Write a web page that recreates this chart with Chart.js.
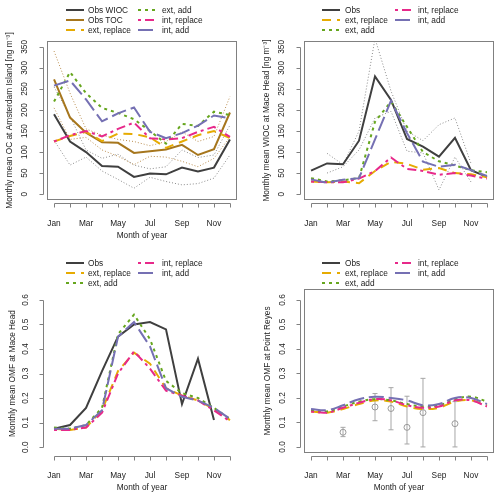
<!DOCTYPE html>
<html>
<head>
<meta charset="utf-8">
<script src="https://cdn.jsdelivr.net/npm/chart.js@4.4.0/dist/chart.umd.min.js"></script>
<style>
html, body { margin: 0; padding: 0; background: #fff; }
#wrap { position: relative; width: 500px; height: 500px; overflow: hidden; }
.panel { position: absolute; width: 250px; height: 250px; }
.panel canvas { position: absolute; left: 0; top: 0; }
.leg div { position: absolute; font: 8.3px "Liberation Sans", Arial, sans-serif; color: #222; white-space: nowrap; line-height: 10px; }
.leg svg { position: absolute; }
</style>
</head>
<body>
<div id="wrap">
  <div class="panel" style="left:0;top:0"><canvas id="c1" width="250" height="250"></canvas><div class="leg" id="l1"></div></div>
  <div class="panel" style="left:250px;top:0"><canvas id="c2" width="250" height="250"></canvas><div class="leg" id="l2"></div></div>
  <div class="panel" style="left:0;top:250px"><canvas id="c3" width="250" height="250"></canvas><div class="leg" id="l3"></div></div>
  <div class="panel" style="left:250px;top:250px"><canvas id="c4" width="250" height="250"></canvas><div class="leg" id="l4"></div></div>
</div>
<script>
// ---- data ----
var months = ['Jan', 'Feb', 'Mar', 'Apr', 'May', 'Jun', 'Jul', 'Aug', 'Sep', 'Oct', 'Nov', 'Dec'];
var ocTicks = [0, 50, 100, 150, 200, 250, 300, 350];
var omfTicks = [0, 0.1, 0.2, 0.3, 0.4, 0.5, 0.6];

// Amsterdam Island OC
var amsWiocObs = [190, 125, 100, 67, 65, 41, 49, 47, 63, 54, 63, 130];
var amsWiocMin = [128, 69, 88, 55, 35, 14, 40, 30, 22, 25, 38, 93];
var amsWiocMax = [255, 185, 105, 85, 95, 69, 60, 65, 105, 87, 93, 164];
var amsTocObs = [273, 182, 146, 123, 122, 98, 102, 106, 117, 93, 107, 194];
var amsTocMin = [205, 130, 135, 105, 90, 70, 90, 88, 78, 65, 85, 136];
var amsTocMax = [340, 240, 155, 140, 130, 125, 115, 125, 148, 125, 137, 232];
var amsExtRep = [125, 138, 148, 126, 144, 143, 135, 110, 125, 140, 150, 133];
var amsExtAdd = [220, 290, 240, 205, 193, 178, 150, 120, 167, 162, 196, 188];
var amsIntRep = [125, 140, 150, 137, 155, 170, 133, 130, 133, 148, 160, 136];
var amsIntAdd = [258, 270, 225, 173, 192, 206, 148, 133, 145, 163, 187, 180];

// Mace Head WIOC
var maceWiocObs = [56, 73, 71, 127, 280, 224, 131, 113, 89, 134, 57, 41];
var maceWiocMin = [null, 50, 65, 105, 181, 197, 102, 98, 10, 88, 29, null];
var maceWiocMax = [null, 97, 70, 150, 370, 245, 150, 127, 165, 181, 73, null];
var maceWiocExtRep = [30, 28, 30, 26, 55, 77, 72, 58, 62, 50, 47, 40];
var maceWiocExtAdd = [38, 30, 33, 38, 172, 220, 160, 100, 78, 68, 57, 52];
var maceWiocIntRep = [30, 28, 28, 37, 55, 87, 60, 55, 46, 50, 44, 37];
var maceWiocIntAdd = [35, 27, 34, 38, 130, 222, 145, 77, 65, 70, 57, 43];

// Mace Head OMF
var maceOmfObs = [0.075, 0.09, 0.16, 0.31, 0.45, 0.50, 0.51, 0.48, 0.175, 0.36, 0.11, null];
var maceOmfExtRep = [0.075, 0.07, 0.08, 0.15, 0.31, 0.385, 0.34, 0.24, 0.21, 0.19, 0.155, 0.11];
var maceOmfExtAdd = [0.08, 0.075, 0.09, 0.16, 0.46, 0.54, 0.44, 0.27, 0.22, 0.20, 0.16, 0.115];
var maceOmfIntRep = [0.07, 0.07, 0.08, 0.14, 0.30, 0.39, 0.32, 0.23, 0.21, 0.19, 0.15, 0.105];
var maceOmfIntAdd = [0.075, 0.075, 0.09, 0.15, 0.45, 0.51, 0.41, 0.24, 0.205, 0.19, 0.16, 0.115];

// Point Reyes OMF
var reyesExtRep = [0.145, 0.14, 0.155, 0.175, 0.19, 0.185, 0.165, 0.155, 0.16, 0.185, 0.19, 0.17];
var reyesExtAdd = [0.15, 0.145, 0.165, 0.185, 0.195, 0.19, 0.175, 0.165, 0.17, 0.195, 0.205, 0.185];
var reyesIntRep = [0.145, 0.14, 0.16, 0.18, 0.195, 0.19, 0.17, 0.16, 0.165, 0.19, 0.19, 0.165];
var reyesIntAdd = [0.155, 0.15, 0.17, 0.195, 0.205, 0.20, 0.19, 0.17, 0.175, 0.20, 0.20, 0.175];
var reyesObsMonth = [3, 5, 6, 7, 8, 10];
var reyesObs = [0.06, 0.163, 0.157, 0.08, 0.14, 0.095];
var reyesObsLo = [0.042, 0.107, 0.07, 0.012, 0.0, 0.0];
var reyesObsHi = [0.08, 0.218, 0.242, 0.207, 0.28, 0.185];

// ---- styles ----
var FONT = '"Liberation Sans", Arial, sans-serif';
var sty = {
    obs:    { color: '#3f3f3f', width: 2, dash: [] },
    toc:    { color: '#a6761d', width: 2, dash: [] },
    extRep: { color: '#e6ab02', width: 2, dash: [9, 6] },
    extAdd: { color: '#66a61e', width: 2, dash: [3, 4] },
    intRep: { color: '#e7298a', width: 2, dash: [3, 4, 9, 4] },
    intAdd: { color: '#7570b3', width: 2, dash: [15, 5] },
    rgGray: { color: '#8a8a8a', width: 1, dash: [1, 2] },
    rgBrown:{ color: '#b98d4f', width: 1, dash: [1, 2] }
};

Chart.defaults.font.family = FONT;
Chart.defaults.font.size = 8.3;
Chart.defaults.color = '#222';

function line(key, vals, extra) {
    var s = sty[key];
    var d = {
        data: vals.map(function (v, i) { return { x: i + 1, y: v }; }),
        borderColor: s.color,
        borderWidth: s.width,
        borderDash: s.dash,
        pointRadius: 0,
        fill: false,
        tension: 0
    };
    return Object.assign(d, extra || {});
}

// box + R-style detached axes + rotated y title
var rFrame = {
    id: 'rFrame',
    afterDraw: function (chart, args, o) {
        var ctx = chart.ctx, a = chart.chartArea, xs = chart.scales.x, ys = chart.scales.y;
        ctx.save();
        ctx.strokeStyle = '#808080';
        ctx.lineWidth = 1;
        ctx.setLineDash([]);
        if (o.box) {
            ctx.strokeRect(Math.round(a.left) + 0.5, Math.round(a.top) + 0.5,
                Math.round(a.right - a.left) - 1, Math.round(a.bottom - a.top) - 1);
        }
        var yp = ys.ticks.map(function (t) { return Math.round(ys.getPixelForValue(t.value)) + 0.5; });
        var xp = xs.ticks.map(function (t) { return Math.round(xs.getPixelForValue(t.value)) + 0.5; });
        var ax = Math.round(a.left - 4) + 0.5, ay = Math.round(a.bottom + 3) + 0.5;
        ctx.beginPath();
        ctx.moveTo(ax, yp[0]); ctx.lineTo(ax, yp[yp.length - 1]);
        yp.forEach(function (p) { ctx.moveTo(ax, p); ctx.lineTo(ax - 4, p); });
        ctx.moveTo(xp[0], ay); ctx.lineTo(xp[xp.length - 1], ay);
        xp.forEach(function (p) { ctx.moveTo(p, ay); ctx.lineTo(p, ay + 4); });
        ctx.stroke();
        ctx.fillStyle = '#222';
        ctx.font = '8.3px ' + FONT;
        ctx.textAlign = 'center';
        ctx.textBaseline = 'middle';
        ctx.translate(o.titleX, (a.top + a.bottom) / 2);
        ctx.rotate(-Math.PI / 2);
        ctx.fillText(o.yTitle, 0, 0);
        ctx.restore();
    }
};

function makeChart(id, p, datasets) {
    return new Chart(document.getElementById(id), {
        type: 'line',
        data: { datasets: datasets },
        options: {
            responsive: false,
            animation: false,
            devicePixelRatio: 1,
            layout: { padding: { left: 0, top: p.t, right: 250 - p.r, bottom: 0 } },
            plugins: {
                legend: { display: false },
                tooltip: { enabled: false },
                rFrame: { box: p.box, titleX: p.titleX, yTitle: p.yTitle }
            },
            scales: {
                x: {
                    type: 'linear',
                    min: 0.56, max: 12.44,
                    grid: { display: false },
                    border: { display: false },
                    afterBuildTicks: function (s) { s.ticks = months.map(function (m, i) { return { value: i + 1 }; }); },
                    afterFit: function (s) { s.height = 250 - p.b; },
                    ticks: {
                        autoSkip: false, maxRotation: 0, padding: p.xPad,
                        callback: function (v) { return v % 2 === 1 ? months[v - 1] : ''; }
                    },
                    title: { display: p.xTitle, text: 'Month of year', padding: { top: 0, bottom: p.xTitlePad } }
                },
                y: {
                    min: p.yMin, max: p.yMax,
                    grid: { display: false },
                    border: { display: false },
                    afterBuildTicks: function (s) { s.ticks = p.yTicks.map(function (v) { return { value: v }; }); },
                    afterFit: function (s) { s.width = p.l; },
                    ticks: {
                        autoSkip: false, minRotation: 90, maxRotation: 90, crossAlign: 'center', padding: p.yPad,
                        callback: p.yFmt
                    }
                }
            }
        },
        plugins: [rFrame]
    });
}

function legend(id, cols, rows, items) {
    var el = document.getElementById(id);
    items.forEach(function (it) {
        var s = sty[it[0]], c = cols[it[2]], y = rows[it[3]];
        var w = c[1] - c[0];
        var svg = '<svg width="' + w + '" height="4" style="left:' + c[0] + 'px;top:' + (y - 2) + 'px">' +
            '<line x1="0" y1="2" x2="' + w + '" y2="2" stroke="' + s.color + '" stroke-width="2"' +
            (s.dash.length ? ' stroke-dasharray="' + s.dash.join(',') + '"' : '') + '/></svg>';
        el.insertAdjacentHTML('beforeend', svg);
        var t = document.createElement('div');
        t.textContent = it[1];
        t.style.left = c[2] + 'px';
        t.style.top = (y - 5) + 'px';
        el.appendChild(t);
    });
}

var intFmt = function (v) { return String(v); };
var decFmt = function (v) { return v.toFixed(1); };

// panel 1: Amsterdam Island
makeChart('c1', {
    l: 47, r: 237, t: 41, b: 200, box: true, yMin: -14, yMax: 364, yTicks: ocTicks, yFmt: intFmt,
    yPad: 7, xPad: 11, xTitle: true, xTitlePad: 9, titleX: 10,
    yTitle: 'Monthly mean OC at Amsterdam Island [ng m\u207B\u00B3]'
}, [
    line('rgGray', amsWiocMin), line('rgGray', amsWiocMax),
    line('rgBrown', amsTocMin), line('rgBrown', amsTocMax),
    line('obs', amsWiocObs), line('toc', amsTocObs),
    line('extRep', amsExtRep), line('extAdd', amsExtAdd),
    line('intRep', amsIntRep), line('intAdd', amsIntAdd)
].reverse());

// panel 2: Mace Head WIOC
makeChart('c2', {
    l: 54, r: 244, t: 41, b: 200, box: true, yMin: -14, yMax: 364, yTicks: ocTicks, yFmt: intFmt,
    yPad: 7, xPad: 11, xTitle: false, xTitlePad: 9, titleX: 17,
    yTitle: 'Monthly mean WIOC at Mace Head [ng m\u207B\u00B9]'.replace('\u00B9', '\u00B3')
}, [
    line('rgGray', maceWiocMin), line('rgGray', maceWiocMax),
    line('obs', maceWiocObs),
    line('extRep', maceWiocExtRep), line('extAdd', maceWiocExtAdd),
    line('intRep', maceWiocIntRep), line('intAdd', maceWiocIntAdd)
].reverse());

// panel 3: Mace Head OMF
makeChart('c3', {
    l: 47, r: 237, t: 44, b: 203, box: false, yMin: -0.024, yMax: 0.624, yTicks: omfTicks, yFmt: decFmt,
    yPad: 8, xPad: 10, xTitle: true, xTitlePad: 7, titleX: 13,
    yTitle: 'Monthly mean OMF at Mace Head'
}, [
    line('obs', maceOmfObs),
    line('extRep', maceOmfExtRep), line('extAdd', maceOmfExtAdd),
    line('intRep', maceOmfIntRep), line('intAdd', maceOmfIntAdd)
].reverse());

// panel 4: Point Reyes OMF
var barPts = [];
reyesObsMonth.forEach(function (m, i) {
    barPts.push({ x: m, y: reyesObsLo[i] }, { x: m, y: reyesObsHi[i] }, { x: m, y: null });
});
makeChart('c4', {
    l: 54, r: 244, t: 39, b: 203, box: true, yMin: -0.0248, yMax: 0.6448, yTicks: omfTicks, yFmt: decFmt,
    yPad: 8, xPad: 10, xTitle: true, xTitlePad: 7, titleX: 18,
    yTitle: 'Monthly mean OMF at Point Reyes'
}, [
    {
        data: barPts, borderColor: '#a6a6a6', borderWidth: 1, spanGaps: false,
        pointStyle: 'line', pointRadius: 2.5, pointBorderColor: '#a6a6a6', pointBorderWidth: 1
    },
    {
        data: reyesObsMonth.map(function (m, i) { return { x: m, y: reyesObs[i] }; }),
        showLine: false, pointStyle: 'circle', pointRadius: 3,
        pointBorderColor: '#9a9a9a', pointBackgroundColor: 'rgba(0,0,0,0)', pointBorderWidth: 1
    },
    line('extRep', reyesExtRep, { tension: 0.4 }), line('extAdd', reyesExtAdd, { tension: 0.4 }),
    line('intRep', reyesIntRep, { tension: 0.4 }), line('intAdd', reyesIntAdd, { tension: 0.4 })
].reverse());

// legends (R-style, two columns)
var colsA = [[66, 84, 88], [138, 157, 162]];
var colsB = [[72, 90, 95], [145, 163, 168]];
legend('l1', colsA, [9.5, 20, 30], [
    ['obs', 'Obs WIOC', 0, 0], ['toc', 'Obs TOC', 0, 1], ['extRep', 'ext, replace', 0, 2],
    ['extAdd', 'ext, add', 1, 0], ['intRep', 'int, replace', 1, 1], ['intAdd', 'int, add', 1, 2]
]);
var std = [
    ['obs', 'Obs', 0, 0], ['extRep', 'ext, replace', 0, 1], ['extAdd', 'ext, add', 0, 2],
    ['intRep', 'int, replace', 1, 0], ['intAdd', 'int, add', 1, 1]
];
legend('l2', colsB, [10, 20, 30], std);
legend('l3', colsA, [13, 23, 33], std);
legend('l4', colsB, [13, 23, 33], std);
</script>
</body>
</html>
